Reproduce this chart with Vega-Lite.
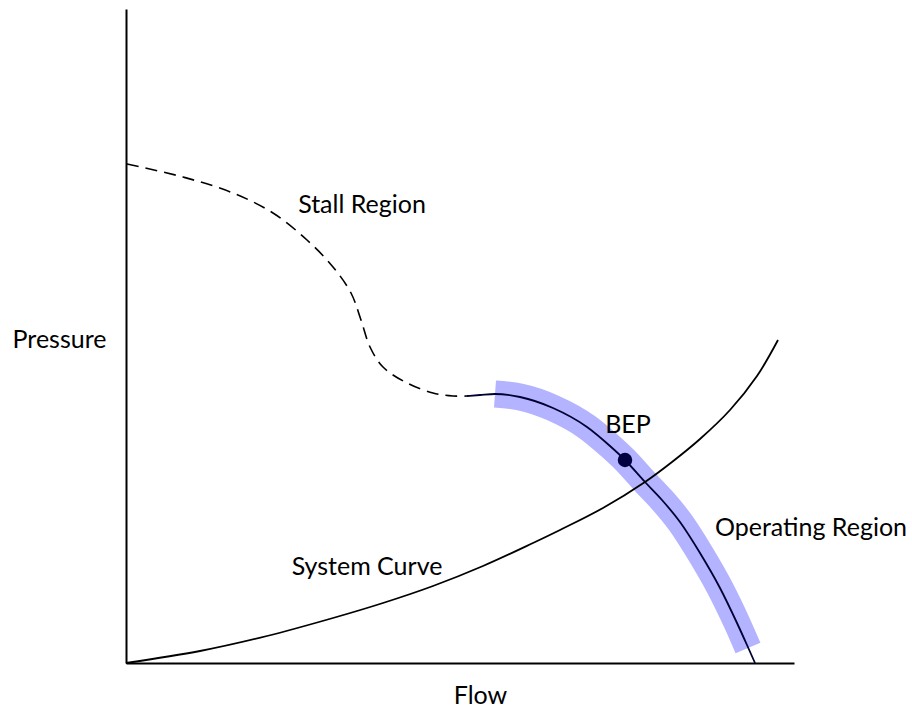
{
  "$schema": "https://vega.github.io/schema/vega-lite/v6.json",
  "width": 668,
  "height": 654,
  "autosize": "none",
  "padding": {"left": 126, "top": 9, "right": 118, "bottom": 45},
  "background": "white",
  "config": {"view": {"stroke": null}},
  "datasets": {
    "stall": [
      {"flow": 1, "pressure": 499}, {"flow": 57, "pressure": 486}, {"flow": 107, "pressure": 470},
      {"flow": 147, "pressure": 450}, {"flow": 181, "pressure": 423}, {"flow": 207, "pressure": 396},
      {"flow": 225, "pressure": 370}, {"flow": 235, "pressure": 343}, {"flow": 244, "pressure": 316},
      {"flow": 257, "pressure": 296}, {"flow": 281, "pressure": 280}, {"flow": 307, "pressure": 270},
      {"flow": 327, "pressure": 267}, {"flow": 341, "pressure": 267}
    ],
    "pump": [
      {"flow": 341, "pressure": 267}, {"flow": 354, "pressure": 268}, {"flow": 369, "pressure": 269},
      {"flow": 394, "pressure": 266}, {"flow": 427, "pressure": 255}, {"flow": 461, "pressure": 236},
      {"flow": 484, "pressure": 217}, {"flow": 499, "pressure": 203}, {"flow": 519, "pressure": 181},
      {"flow": 536, "pressure": 163}, {"flow": 554, "pressure": 141}, {"flow": 574, "pressure": 110},
      {"flow": 594, "pressure": 75}, {"flow": 611, "pressure": 40}, {"flow": 621, "pressure": 18},
      {"flow": 629, "pressure": 0}
    ],
    "band": [
      {"flow": 369, "pressure": 269}, {"flow": 394, "pressure": 266}, {"flow": 427, "pressure": 255},
      {"flow": 461, "pressure": 236}, {"flow": 484, "pressure": 217}, {"flow": 499, "pressure": 203},
      {"flow": 519, "pressure": 181}, {"flow": 536, "pressure": 163}, {"flow": 554, "pressure": 141},
      {"flow": 574, "pressure": 110}, {"flow": 594, "pressure": 75}, {"flow": 611, "pressure": 40},
      {"flow": 622, "pressure": 15}
    ],
    "system": [
      {"flow": 0, "pressure": 0}, {"flow": 74, "pressure": 12}, {"flow": 141, "pressure": 27},
      {"flow": 207, "pressure": 45}, {"flow": 257, "pressure": 60}, {"flow": 307, "pressure": 77},
      {"flow": 357, "pressure": 97}, {"flow": 407, "pressure": 120}, {"flow": 434, "pressure": 133},
      {"flow": 477, "pressure": 155}, {"flow": 519, "pressure": 181}, {"flow": 546, "pressure": 201},
      {"flow": 574, "pressure": 224}, {"flow": 604, "pressure": 253}, {"flow": 631, "pressure": 287},
      {"flow": 652, "pressure": 323}
    ],
    "bep": [{"flow": 499, "pressure": 203}],
    "labels": [
      {"flow": 236, "pressure": 450, "label": "Stall Region"},
      {"flow": 502, "pressure": 230, "label": "BEP"},
      {"flow": 685, "pressure": 127, "label": "Operating Region"},
      {"flow": 241, "pressure": 88, "label": "System Curve"}
    ]
  },
  "encoding": {
    "x": {
      "field": "flow", "type": "quantitative",
      "scale": {"domain": [0, 668], "nice": false, "zero": false},
      "axis": {
        "title": "Flow", "domain": true, "domainColor": "black", "domainWidth": 2,
        "ticks": false, "labels": false, "grid": false,
        "titleFont": "Lato", "titleFontSize": 25, "titleFontWeight": "normal", "titleColor": "black",
        "titleX": 354, "titleY": 40, "titleAlign": "center", "titleBaseline": "alphabetic"
      }
    },
    "y": {
      "field": "pressure", "type": "quantitative",
      "scale": {"domain": [0, 654], "nice": false, "zero": false},
      "axis": {
        "title": "Pressure", "domain": true, "domainColor": "black", "domainWidth": 2,
        "ticks": false, "labels": false, "grid": false,
        "titleFont": "Lato", "titleFontSize": 25, "titleFontWeight": "normal", "titleColor": "black",
        "titleAngle": 0, "titleX": -67, "titleY": 338, "titleAlign": "center", "titleBaseline": "alphabetic"
      }
    }
  },
  "layer": [
    {"data": {"name": "band"}, "mark": {"type": "line", "interpolate": "monotone", "color": "#b3b3ff", "strokeWidth": 27, "strokeCap": "butt"}},
    {"data": {"name": "stall"}, "mark": {"type": "line", "interpolate": "catmull-rom", "color": "black", "strokeWidth": 1.6, "strokeDash": [12, 7]}},
    {"data": {"name": "pump"}, "mark": {"type": "line", "interpolate": "monotone", "color": "#000033", "strokeWidth": 1.8}},
    {"data": {"name": "system"}, "mark": {"type": "line", "interpolate": "catmull-rom", "color": "black", "strokeWidth": 1.8}},
    {"data": {"name": "bep"}, "mark": {"type": "point", "filled": true, "size": 210, "color": "#000040", "opacity": 1}},
    {"data": {"name": "labels"}, "mark": {"type": "text", "font": "Lato", "fontSize": 25, "color": "black", "align": "center", "baseline": "alphabetic"}, "encoding": {"text": {"field": "label"}}}
  ]
}
